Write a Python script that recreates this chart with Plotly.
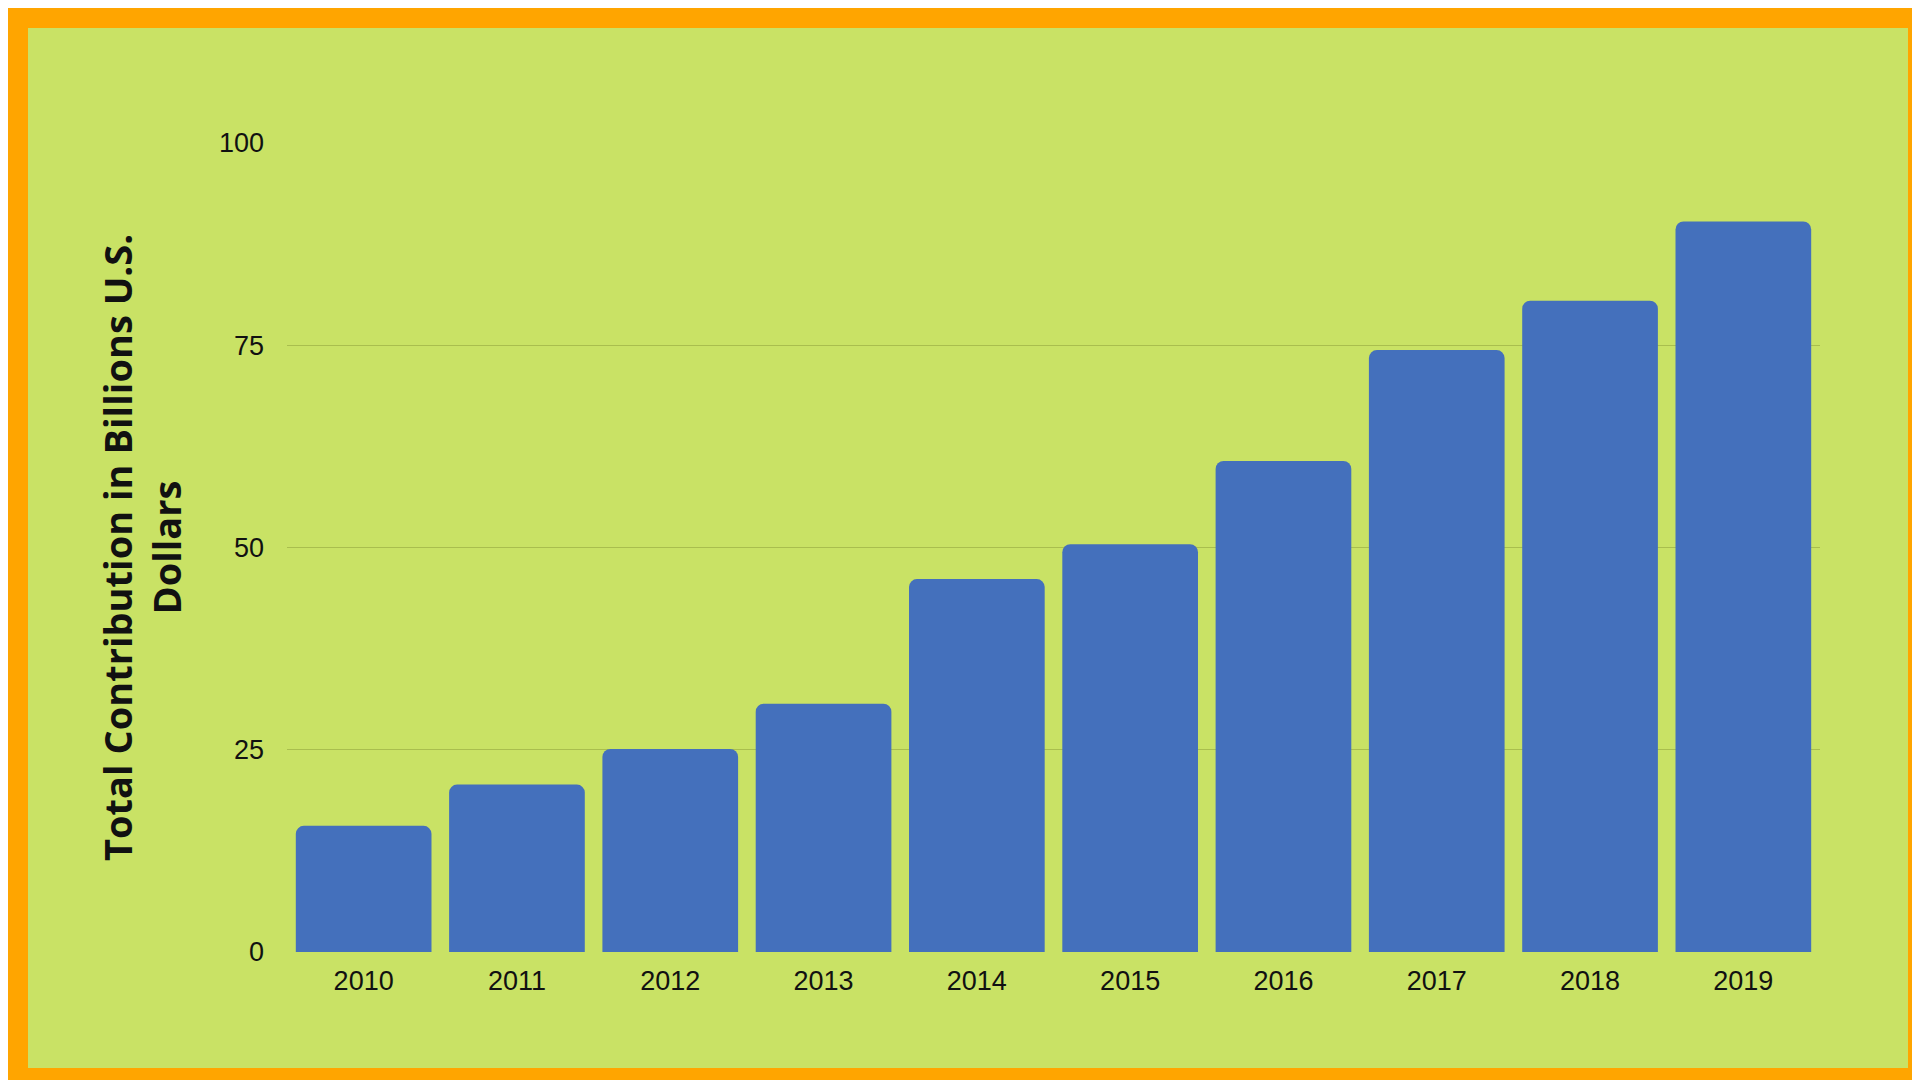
import plotly.graph_objects as go

years = ["2010", "2011", "2012", "2013", "2014", "2015", "2016", "2017", "2018", "2019"]
contribution = [15.6, 20.7, 25.1, 30.7, 46.1, 50.4, 60.7, 74.4, 80.5, 90.3]

W, H = 1920, 1080
L, R, T, B = 279, 108, 135, 136
pw, ph = W - L - R, H - T - B
edge = 20

fig = go.Figure(go.Bar(x=years, y=contribution, marker_color="#4470BC",
                       marker_line_width=0))

# orange frame with green inner panel
fig.add_shape(type="rect", xref="paper", yref="paper", layer="below",
              x0=(edge - L) / pw, x1=1 + (R - edge) / pw,
              y0=(edge - B) / ph, y1=1 + (T - edge) / ph,
              fillcolor="#C9E265", line_width=0)

fig.update_layout(
    width=W, height=H,
    margin=dict(l=L, r=R, t=T, b=B),
    paper_bgcolor="#FFA500",
    plot_bgcolor="rgba(0,0,0,0)",
    bargap=0.115,
    barcornerradius=8,
    showlegend=False,
    font=dict(family="Liberation Sans, Arial", size=27, color="#111111"),
)
fig.update_xaxes(showgrid=False, showline=False, ticks="", ticklabelstandoff=10)
fig.update_yaxes(range=[0, 100], tickvals=[0, 25, 50, 75, 100],
                 gridcolor="#A9BE4E", gridwidth=1, zeroline=False,
                 ticklabelstandoff=22,
                 title=dict(text="<b>Total Contribution in Billions U.S.<br>Dollars</b>",
                            font=dict(family="Open Sans", size=38, color="#111111"),
                            standoff=25))

fig.write_html("out.html")
